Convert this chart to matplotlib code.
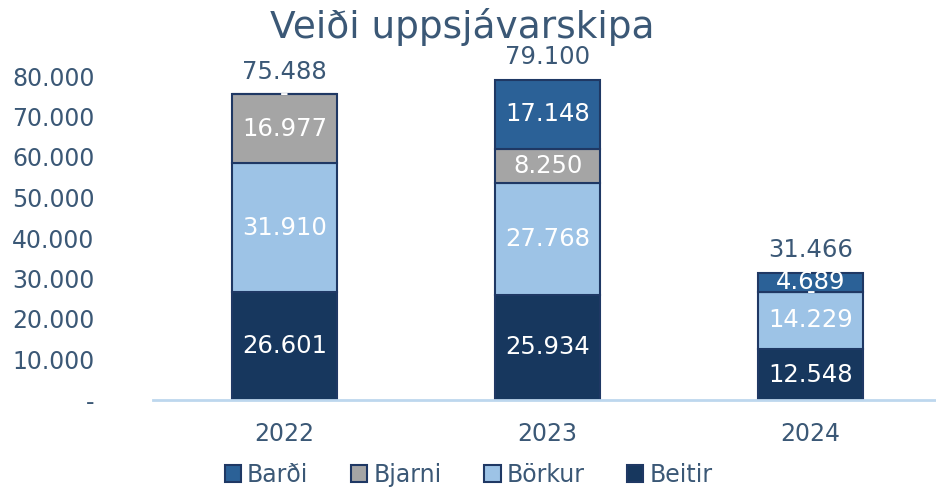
import matplotlib.pyplot as plt
import numpy as np

years = ["2022", "2023", "2024"]
beitir = [26601, 25934, 12548]
borkur = [31910, 27768, 14229]
bjarni = [16977, 8250, 0]
bardi = [0, 17148, 4689]

series = [("Beitir", beitir, "#17375E"),
          ("Börkur", borkur, "#9DC3E6"),
          ("Bjarni", bjarni, "#A5A5A5"),
          ("Barði", bardi, "#2B6197")]

text_col = "#3B5876"
edge_col = "#1F3864"


def fmt(v):
    if v == 0:
        return "-"
    return f"{v:,.0f}".replace(",", ".")


plt.rcParams['font.family'] = ['DejaVu Sans']

fig = plt.figure(figsize=(9.37, 4.87), dpi=100)
ax = fig.add_axes([153 / 937, 1 - 400 / 487, (937 - 153) / 937, (400 - 76) / 487])

x = np.arange(len(years))
width = 0.40
bottom = np.zeros(len(years))
bars = {}
for name, vals, col in series:
    vals = np.array(vals, dtype=float)
    bars[name] = ax.bar(x, vals, width, bottom=bottom, color=col,
                        edgecolor=edge_col, linewidth=1.5, label=name, zorder=2)
    for xi, b, v in zip(x, bottom, vals):
        if v == 0 and b == 0:
            continue
        ax.text(xi, b + v / 2, fmt(v), ha="center", va="center",
                color="white", fontsize=17.5, zorder=3)
    bottom += vals

for xi, tot in zip(x, bottom):
    ax.text(xi, tot + 2600, fmt(tot), ha="center", va="bottom",
            color=text_col, fontsize=17.5)

ax.set_xlim(-0.5, 2.48)
ax.set_ylim(0, 80000)
ax.set_yticks(np.arange(0, 80001, 10000))
ax.set_yticklabels([fmt(v) for v in np.arange(0, 80001, 10000)])
ax.set_xticks(x)
ax.set_xticklabels(years)
ax.tick_params(axis="y", length=0, pad=42, labelsize=17, labelcolor=text_col)
ax.tick_params(axis="x", length=0, pad=16, labelsize=17, labelcolor=text_col)
for s in ["top", "right", "left"]:
    ax.spines[s].set_visible(False)
ax.spines["bottom"].set_color("#BDD7EE")
ax.spines["bottom"].set_linewidth(2)

fig.text(0.493, 0.945, "Veiði uppsjávarskipa", ha="center", va="center",
         fontsize=27, color=text_col)

handles = [bars[n] for n in ["Barði", "Bjarni", "Börkur", "Beitir"]]
leg = fig.legend(handles, ["Barði", "Bjarni", "Börkur", "Beitir"], ncol=4,
                 loc="center", bbox_to_anchor=(0.5, 0.025), frameon=False,
                 fontsize=17, handlelength=0.7, handleheight=0.7,
                 handletextpad=0.25, columnspacing=1.8)
for t in leg.get_texts():
    t.set_color(text_col)

fig.savefig("out.png", dpi=100)
